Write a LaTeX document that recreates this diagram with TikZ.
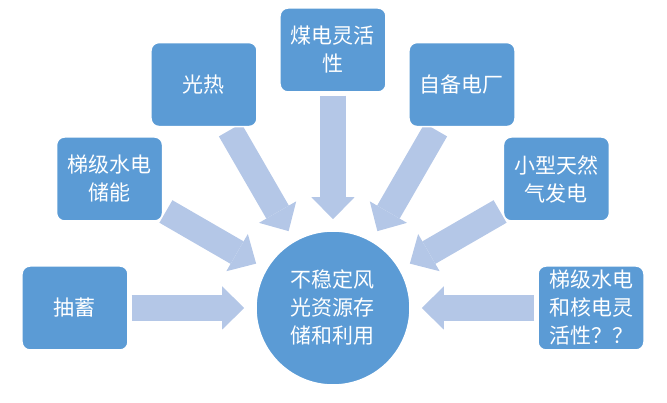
\documentclass[tikz,border=0pt]{standalone}
\usepackage{fontspec}
\setmainfont{Noto Sans CJK SC}
\usetikzlibrary{arrows.meta,backgrounds}
\definecolor{boxblue}{HTML}{5B9BD5}
\definecolor{arrowblue}{HTML}{B4C7E7}
\begin{document}
\begin{tikzpicture}
    \tikzstyle{every node}=[font=\fontsize{21}{28}\selectfont, align=center, text=white]
    \tikzset{
        n/.style={draw=white, line width=1.5pt, fill=boxblue, rounded corners=8pt, minimum height=84pt, minimum width=106pt, inner sep=0pt},
        n2/.style={n, circle, minimum size=154pt},
        big/.style={arrowblue, line width=26pt, -{Triangle[width=43pt, length=22pt, line width=0pt]}, shorten <=3pt, shorten >=11pt}
        }
    \useasboundingbox (-333pt,-95pt) rectangle (334pt,308pt);

    %centre
    \node (hub) [n2] at (0,0) {不稳定风\\光资源存\\储和利用};

    %sources
    \node (pumped) [n] at (180:258pt) {抽蓄};
    \node (cascade) [n] at (150:258pt) {梯级水电\\储能};
    \node (solar) [n] at (120:258pt) {光热};
    \node (coal) [n] at (90:258pt) {煤电灵活\\性};
    \node (captive) [n] at (60:258pt) {自备电厂};
    \node (gas) [n] at (30:258pt) {小型天然\\气发电};
    \node (nuclear) [n] at (0:258pt) {梯级水电\\和核电灵\\活性？？};

    % arrows behind the boxes
    \begin{scope}[on background layer]
    \draw [big] (pumped) -- (hub);
    \draw [big] (cascade) -- (hub);
    \draw [big] (solar) -- (hub);
    \draw [big] (coal) -- (hub);
    \draw [big] (captive) -- (hub);
    \draw [big] (gas) -- (hub);
    \draw [big] (nuclear) -- (hub);
    \end{scope}
\end{tikzpicture}
\end{document}
